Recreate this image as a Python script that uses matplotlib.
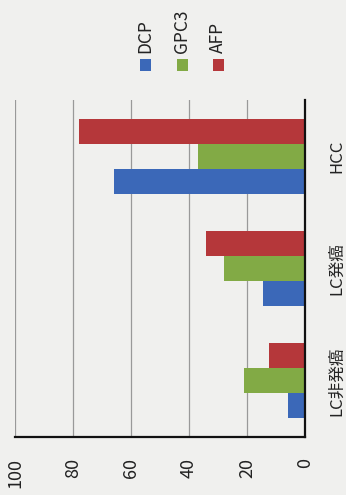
import matplotlib
matplotlib.use("Agg")
import matplotlib.pyplot as plt
from matplotlib.patches import Rectangle
import numpy as np

plt.rcParams['font.family'] = ['Noto Sans CJK JP', 'DejaVu Sans']

# Categories from bottom to top of the rotated chart
categories = ['LC非発癌', 'LC発癌', 'HCC']
series_names = ['DCP', 'GPC3', 'AFP']
dcp = [6, 14.5, 66]
gpc3 = [21, 28, 37]
afp = [12.5, 34, 78]
value_ticks = [0, 20, 40, 60, 80, 100]

colors = ['#3b68b8', '#82aa45', '#b5373a']
bg = '#f0f0ee'

W, H = 346, 495
fig = plt.figure(figsize=(W / 100, H / 100), dpi=100, facecolor=bg)

# axes placed in pixel terms: x 15..305, y 100..437 (top-down)
ax = fig.add_axes([15 / W, (H - 437) / H, 290 / W, 337 / H])
ax.set_facecolor(bg)

y = np.arange(len(categories))
h = 0.223
for offset, vals, c in zip([-h, 0, h], [dcp, gpc3, afp], colors):
    ax.barh(y + offset, vals, height=h, color=c, edgecolor='none', zorder=3)

ax.set_xlim(100, 0)
ax.set_ylim(-0.5, len(categories) - 0.5)
ax.set_xticks(value_ticks)
ax.set_xticklabels([str(v) for v in value_ticks])
ax.grid(axis='x', color='#999999', linewidth=0.9, zorder=0)
ax.set_axisbelow(True)

for s in ['left', 'top']:
    ax.spines[s].set_visible(False)
ax.spines['right'].set_color('#111111')
ax.spines['right'].set_linewidth(1.6)
ax.spines['bottom'].set_color('#111111')
ax.spines['bottom'].set_linewidth(1.6)
ax.spines['right'].set_zorder(4)

ax.tick_params(axis='x', length=0, pad=15, labelsize=13, labelrotation=90,
               colors='#222222')
ax.yaxis.tick_right()
ax.set_yticks(y)
ax.set_yticklabels(categories)
ax.tick_params(axis='y', length=0, pad=17, labelsize=12, colors='#222222')
for lab in ax.get_yticklabels():
    lab.set_rotation(90)
    lab.set_va('center')
    lab.set_ha('left')

# legend along the top, entries rotated like the rest of the chart
leg_x = [145, 182, 218]
for name, c, px in zip(series_names, colors, leg_x):
    size = 11
    fig.patches.append(Rectangle(((px - size / 2) / W, (H - 65 - size / 2) / H),
                                 size / W, size / H, transform=fig.transFigure,
                                 facecolor=c, edgecolor='none'))
    fig.text(px / W, (H - 53) / H, name, rotation=90, ha='center', va='bottom',
             fontsize=12.5, color='#222222')

fig.savefig('out.png', dpi=100, facecolor=bg)
